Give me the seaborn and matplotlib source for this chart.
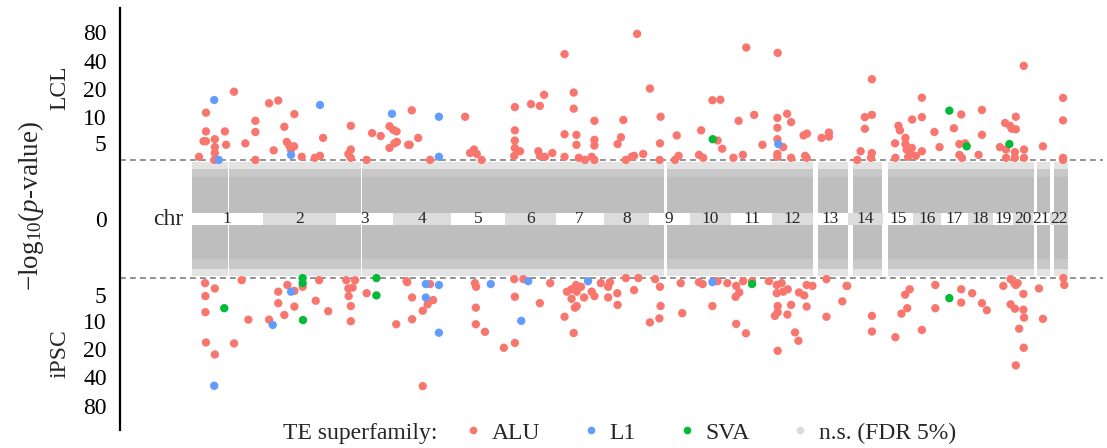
import numpy as np
import pandas as pd
import matplotlib
matplotlib.use("Agg")
import matplotlib.pyplot as plt
from matplotlib.lines import Line2D
import seaborn as sns

# ---------------- data ----------------
CHROMS = [str(i) for i in range(1, 23)]
CHR_LEN = [234, 238, 190, 190, 175, 167, 157, 149, 133, 137, 133, 134,
           117, 113, 98, 93, 87, 82, 68, 63, 58, 57]          # Mb (plotted extent)

# genomic stretches covered by the non-significant TEs (cumulative Mb)
NS_SEG_START = [0, 123, 559, 1558, 2055, 2170, 2283, 2772, 2829]
NS_SEG_END = [118, 555, 1550, 2039, 2154, 2265, 2763, 2815, 2873]
NS_CORE_UP, NS_CORE_DN = 1.65, 1.55    # -log10 p reached by the dense n.s. cloud
NS_MID = 2.25
NS_EDGE = 2.8
FDR_THRESHOLD = 3.0

# significant TEs: cumulative position (Mb) and -log10(p)
ALU_LCL_POS = [139, 47, 254, 284, 337, 209, 304, 522, 47, 109, 209, 39, 47, 76, 113, 176, 76, 76, 74, 24,
               312, 320, 336, 326, 269, 209, 361, 431, 404, 421, 522, 514, 522, 574, 592, 620, 649, 661,
               672, 665, 649, 673, 710,
               722, 743, 715, 782, 897, 913, 926, 935, 951, 1060, 1060, 1060, 1060, 1077, 1058, 1113, 1142,
               1156, 1137, 1142, 1159, 1183, 1223, 1253, 1253, 1223, 1262, 1262, 1223, 1321, 1321, 1321,
               1270, 1290, 1312, 1321, 1416, 1408, 1397, 1424,
               1461, 1503, 1538, 1536, 1535, 1481, 1443, 1451, 1591, 1597, 1585, 1671, 1664, 1678, 1708,
               1734, 1725, 1740, 1777, 1794, 1808, 1819, 1845, 1872, 1922, 1921, 1921, 1953, 1966, 1921,
               1940, 1921, 1921, 1966, 2007, 2018, 2012, 2017, 2066, 2090, 2090,
               2231, 2208, 2231, 2208, 2194, 2183, 2231, 2228, 2318, 2323, 2307, 2341, 2341, 2345, 2356,
               2362, 2375, 2350, 2308, 2363, 2395, 2395, 2395, 2436, 2453, 2500, 2524, 2518, 2537, 2518,
               2526, 2581, 2592, 2592, 2651, 2668, 2684, 2690, 2703, 2703, 2671, 2671, 2700, 2700, 2730,
               2730, 2729, 2792, 2858, 2858, 2858, 2858]
ALU_LCL_VAL = [18.8, 11.1, 14.1, 15.1, 10.7, 9.0, 7.7, 7.9, 6.8, 6.8, 6.7, 5.2, 5.2, 5.5, 4.7, 4.9, 4.4, 3.7, 3.0, 3.3,
               5.1, 4.6, 4.5, 4.1, 4.0, 3.0, 3.3, 5.7, 3.2, 3.4, 4.1, 3.6, 3.2, 3.0, 6.5, 6.0, 7.8, 7.1,
               6.8, 4.9, 4.3, 5.1, 4.7,
               11.8, 5.7, 4.7, 3.0, 10.0, 3.7, 4.1, 3.6, 3.0, 12.8, 7.0, 5.3, 4.3, 3.9, 3.4, 13.8, 13.2,
               17.4, 3.9, 3.4, 3.3, 3.7, 46.8, 18.4, 12.3, 6.3, 6.2, 4.7, 3.3, 9.0, 5.4, 4.6,
               3.2, 3.0, 3.3, 3.0, 9.2, 5.8, 4.8, 3.0,
               75.9, 20.3, 10.0, 4.9, 3.0, 3.6, 3.3, 3.4, 6.1, 3.4, 3.0, 7.0, 3.5, 3.2, 15.2,
               15.4, 5.3, 4.2, 3.2, 9.0, 3.5, 54.8, 10.5, 4.7, 48.2, 9.7, 7.5, 10.8, 8.7, 5.5,
               4.4, 3.6, 3.3, 3.2, 6.1, 6.4, 3.4, 3.2, 5.7, 6.6, 5.9,
               25.5, 9.9, 10.5, 7.3, 3.9, 3.0, 3.7, 3.2, 7.9, 7.0, 4.9, 5.7, 4.8, 4.1, 3.9,
               4.3, 3.4, 3.3, 3.2, 9.3, 16.2, 9.9, 3.9, 6.7, 4.4, 7.4, 10.6, 4.8, 4.9, 3.5,
               3.2, 3.5, 11.9, 6.2, 4.4, 8.5, 7.9, 7.3, 7.2, 10.0, 4.1, 3.2, 3.8, 3.2, 4.1,
               3.2, 35.3, 4.5, 16.1, 9.1, 3.2, 3.0]

L1_LCL_POS = [74, 89, 326, 421, 657, 811, 811, 1924]
L1_LCL_VAL = [15.3, 3.0, 3.5, 13.5, 10.8, 10.0, 3.3, 4.8]

SVA_LCL_POS = [1709, 2485, 2542, 2682]
SVA_LCL_VAL = [5.5, 11.7, 4.5, 4.8]

ALU_IPSC_POS = [44, 76, 45, 45, 47, 76, 139, 164, 186, 254, 284, 284, 304, 314, 337, 337, 364, 407, 418, 448,
                507, 536, 514, 528, 515, 522, 522, 574, 671, 705,
                707, 723, 723, 758, 774, 792, 782, 758, 929, 933, 932, 932, 962, 1024, 1060, 1060, 1058, 1088,
                1142, 1176, 1223, 1253, 1231, 1246, 1261, 1277, 1263, 1246, 1257, 1263, 1287, 1312, 1321,
                1342, 1366, 1372, 1366, 1396, 1397, 1424,
                1465, 1451, 1520, 1536, 1538, 1534, 1503, 1604, 1609, 1664, 1676, 1725, 1708, 1757, 1786,
                1796, 1784, 1786, 1818, 1809, 1838, 1893, 1919, 1935, 1955, 1919, 1940, 1922, 1922, 1913,
                1954, 1966, 1922, 1979, 1990, 1992, 2009, 2017, 2036, 2017, 2082, 2082, 2134, 2148,
                2150, 2231, 2231, 2308, 2328, 2347, 2340, 2355, 2395, 2439, 2439, 2524, 2524, 2560, 2592,
                2608, 2662, 2686, 2698, 2709, 2703, 2686, 2700, 2728, 2728, 2730, 2714, 2729, 2703, 2779,
                2792, 2859, 2862]
ALU_IPSC_VAL = [3.5, 4.1, 5.1, 7.9, 17.1, 23.0, 17.5, 3.2, 9.6, 9.6, 4.5, 6.2, 8.5, 3.7, 4.4, 6.8, 3.9, 5.8, 3.2, 7.7,
                3.2, 3.2, 4.1, 4.0, 5.1, 6.7, 10.0, 4.7, 10.8, 3.3,
                3.4, 5.3, 9.5, 7.6, 6.4, 5.7, 3.6, 49.4, 3.5, 3.9, 7.0, 10.8, 13.1, 19.5, 17.3, 5.2, 3.1, 3.1,
                6.2, 3.5, 8.9, 13.5, 4.5, 4.2, 3.7, 3.9, 4.5, 5.5, 7.0, 6.7, 5.3, 4.5, 5.1,
                3.5, 3.9, 3.4, 5.3, 4.7, 6.5, 3.0,
                3.0, 4.3, 3.1, 3.9, 6.7, 9.3, 10.3, 3.5, 8.1, 3.4, 3.6, 3.3, 6.7, 3.5, 3.8,
                4.6, 5.2, 10.7, 13.6, 3.3, 3.3, 3.3, 3.7, 3.5, 4.2, 4.7, 4.5, 6.7, 7.9, 8.7,
                8.4, 6.5, 21.0, 13.3, 16.4, 4.6, 5.0, 3.7, 3.8, 6.8, 3.1, 8.9, 5.9, 3.8,
                3.8, 8.7, 13.0, 15.0, 8.2, 7.1, 4.9, 4.2, 12.5, 3.7, 7.1, 4.2, 6.1, 4.7, 6.2,
                7.5, 3.8, 3.1, 3.5, 3.5, 3.7, 6.4, 7.2, 4.8, 7.4, 9.1, 12.1, 19.5, 30.0, 4.1,
                9.4, 3.0, 3.7]

L1_IPSC_POS = [326, 266, 74, 768, 811, 768, 811, 981, 1081, 1104, 1300, 1708]
L1_IPSC_VAL = [4.5, 11.0, 49.0, 3.6, 3.7, 5.3, 13.4, 3.6, 9.9, 3.3, 3.3, 3.4]

SVA_IPSC_POS = [364, 364, 107, 365, 606, 606, 1838, 2485]
SVA_IPSC_VAL = [3.0, 3.5, 7.1, 9.7, 3.0, 5.0, 3.6, 5.4]

Y_TICKS = [80, 40, 20, 10, 5, 0, 5, 10, 20, 40, 80]
FAMILIES = ["ALU", "L1", "SVA"]
LEGEND_LABELS = ["ALU", "L1", "SVA", "n.s. (FDR 5%)"]

# ---------------- style ----------------
sns.set_style("white")
plt.rcParams["font.family"] = ["Liberation Serif", "DejaVu Serif"]
plt.rcParams["mathtext.fontset"] = "custom"
plt.rcParams["mathtext.rm"] = "Liberation Serif"
plt.rcParams["mathtext.it"] = "Liberation Serif:italic"

PALETTE = {"ALU": "#F8766D", "L1": "#619CFF", "SVA": "#00BA38"}
NS_COLOR = "#BEBEBE"
NS_MID_COLOR = "#C8C8C8"
NS_EDGE_COLOR = "#E3E3E3"
NS_LEGEND = "#DADADA"
FS = 17

# ---------------- build table ----------------
rows = []
for fam, pos, val in [("ALU", ALU_LCL_POS, ALU_LCL_VAL), ("L1", L1_LCL_POS, L1_LCL_VAL),
                      ("SVA", SVA_LCL_POS, SVA_LCL_VAL)]:
    for p, v in zip(pos, val):
        rows.append((fam, "LCL", p, v))
for fam, pos, val in [("ALU", ALU_IPSC_POS, ALU_IPSC_VAL), ("L1", L1_IPSC_POS, L1_IPSC_VAL),
                      ("SVA", SVA_IPSC_POS, SVA_IPSC_VAL)]:
    for p, v in zip(pos, val):
        rows.append((fam, "iPSC", p, -v))
df = pd.DataFrame(rows, columns=["family", "cell", "pos", "signed"])

chr_start = np.concatenate([[0], np.cumsum(CHR_LEN)[:-1]])
chr_mid = chr_start + np.array(CHR_LEN) / 2.0

# ---------------- figure ----------------
fig = plt.figure(figsize=(11.07, 4.48), dpi=100)
ax = fig.add_axes([120 / 1107, 1 - 430 / 448, 983 / 1107, 422 / 448])


def fwd(y):
    y = np.asarray(y, dtype=float)
    return np.sign(y) * np.log1p(np.abs(y))


def inv(y):
    y = np.asarray(y, dtype=float)
    return np.sign(y) * np.expm1(np.abs(y))


ax.set_yscale("function", functions=(fwd, inv))
ax.set_ylim(-140, 140)
ax.set_xlim(-235, 2989)

# n.s. cloud
for a, b in zip(NS_SEG_START, NS_SEG_END):
    ax.fill_between([a, b], [-NS_EDGE] * 2, [NS_EDGE] * 2, color=NS_EDGE_COLOR, linewidth=0, zorder=1)
    ax.fill_between([a, b], [-NS_MID] * 2, [NS_MID] * 2, color=NS_MID_COLOR, linewidth=0, zorder=1)
    ax.fill_between([a, b], [-NS_CORE_DN] * 2, [NS_CORE_UP] * 2, color=NS_COLOR, linewidth=0, zorder=1)

# chromosome band
band_colors = ["white" if i % 2 == 0 else "#DCDCDC" for i in range(len(CHROMS))]
ax.bar(chr_start, 0.3, width=CHR_LEN, bottom=-0.15, align="edge", color=band_colors,
       linewidth=0, zorder=2)
for m, name in zip(chr_mid, CHROMS):
    ax.text(m, 0, name, ha="center", va="center", fontsize=12.5, zorder=3)
ax.text(-28, 0, "chr", ha="right", va="center", fontsize=FS)

# threshold lines
for t in (FDR_THRESHOLD, -FDR_THRESHOLD):
    ax.axhline(t, color="#7F7F7F", lw=1.2, dashes=(3.5, 2.5), zorder=2.5)

# significant points
sns.scatterplot(data=df, x="pos", y="signed", hue="family", hue_order=FAMILIES,
                palette=PALETTE, s=36, linewidth=0, legend=False, ax=ax, zorder=4)

# axes cosmetics
for s in ("top", "right", "bottom"):
    ax.spines[s].set_visible(False)
ax.spines["left"].set_linewidth(1.6)
ax.spines["left"].set_color("black")
ax.set_xticks([])
ax.set_xlabel("")
ax.set_ylabel("")
tick_vals = [-80, -40, -20, -10, -5, 0, 5, 10, 20, 40, 80]
ax.set_yticks(tick_vals)
ax.set_yticklabels([str(v) for v in Y_TICKS[::-1]])
ax.tick_params(axis="y", length=4.5, width=1.2, pad=5, labelsize=FS, colors="black")
ax.minorticks_off()

fig.text(31 / 1107, 1 - 206 / 448, "\u2212log$_{10}$($p$-value)", rotation=90,
         ha="center", va="center", fontsize=19.5)
fig.text(60 / 1107, 1 - 88 / 448, "LCL", rotation=90, ha="center", va="center", fontsize=FS)
fig.text(60 / 1107, 1 - 354 / 448, "iPSC", rotation=90, ha="center", va="center", fontsize=FS)

# legend
fig.text(283 / 1107, 1 - 433 / 448, "TE superfamily:", ha="left", va="center", fontsize=FS)
handles = [Line2D([0], [0], marker="o", linestyle="", markersize=5.5, markeredgewidth=0,
                  markerfacecolor=c) for c in [PALETTE["ALU"], PALETTE["L1"], PALETTE["SVA"], NS_LEGEND]]
fig.legend(handles, LEGEND_LABELS, loc="center left", bbox_to_anchor=(466.6 / 1107, 1 - 433 / 448),
           ncol=4, frameon=False, handlelength=0.5, handletextpad=0.55, columnspacing=1.9,
           borderpad=0, borderaxespad=0, fontsize=FS)

fig.savefig("out.png", dpi=100)
